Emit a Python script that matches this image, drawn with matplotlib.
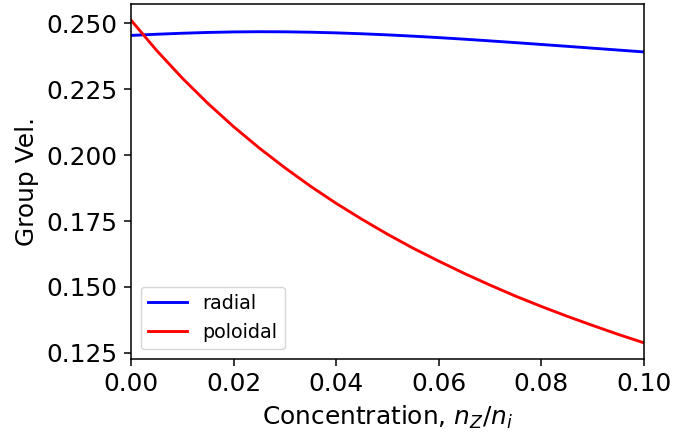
import matplotlib
matplotlib.use("Agg")
import matplotlib.pyplot as plt

conc = [0.000, 0.005, 0.010, 0.015, 0.020, 0.025, 0.030, 0.035, 0.040, 0.045,
        0.050, 0.055, 0.060, 0.065, 0.070, 0.075, 0.080, 0.085, 0.090, 0.095, 0.100]
radial = [0.24540, 0.24585, 0.24623, 0.24653, 0.24673, 0.24681, 0.24677, 0.24662, 0.24637, 0.24603,
          0.24561, 0.24512, 0.24457, 0.24397, 0.24333, 0.24266, 0.24197, 0.24127, 0.24056, 0.23985, 0.23914]
poloidal = [0.2512, 0.2397, 0.2292, 0.2196, 0.2108, 0.2027, 0.1952, 0.1882, 0.1817, 0.1757,
            0.1700, 0.1647, 0.1598, 0.1551, 0.1507, 0.1465, 0.1426, 0.1389, 0.1354, 0.1320, 0.1288]

S = 1.38
fig = plt.figure(figsize=(6.93, 4.32), dpi=100)
ax = fig.add_axes([131/693, 1-359/432, (644-131)/693, (359-4)/432])
ax.plot(conc, radial, color="blue", lw=1.5*S, label="radial")
ax.plot(conc, poloidal, color="red", lw=1.5*S, label="poloidal")
ax.set_xlim(0, 0.1)
ax.set_xticks([0.0, 0.02, 0.04, 0.06, 0.08, 0.1])
ax.set_yticks([0.125, 0.150, 0.175, 0.200, 0.225, 0.250])
ax.tick_params(labelsize=13*S, length=3.5*S, width=0.8*S, pad=3.5*S)
for sp in ax.spines.values():
    sp.set_linewidth(0.8*S)
ax.set_xlabel(r"Concentration, $n_Z/n_i$", fontsize=13*S, labelpad=4*S)
ax.set_ylabel("Group Vel.", fontsize=13*S, labelpad=4*S)
ax.legend(loc="lower left", fontsize=10*S)
fig.savefig("out.png", dpi=100)
